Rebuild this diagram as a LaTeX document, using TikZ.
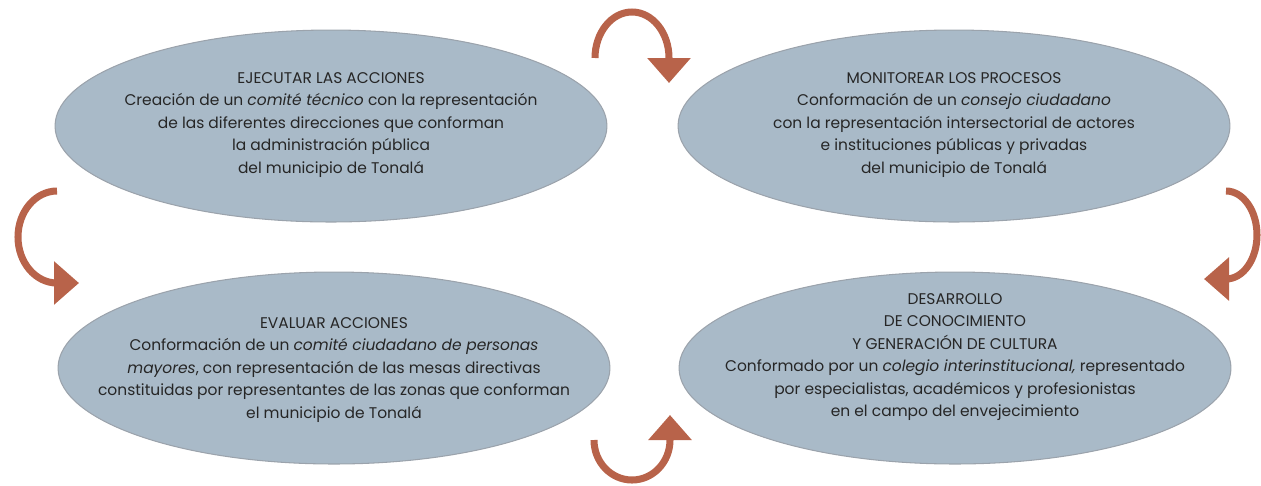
\documentclass[tikz,border=0pt]{standalone}
\usepackage{fontspec}
\setmainfont{Poppins}
\usetikzlibrary{shapes.geometric}
\usetikzlibrary{arrows.meta}
\definecolor{ovalfill}{RGB}{169,186,200}
\definecolor{ovalline}{RGB}{155,163,172}
\definecolor{cyclearrow}{RGB}{184,99,74}
\tikzset{
  oval/.style={ellipse,fill=ovalfill,draw=ovalline,line width=0.6pt,
    minimum width=11.04cm,minimum height=3.84cm,inner sep=0pt},
  ovaltext/.style={align=center,font=\fontsize{8.8}{12.8}\selectfont,text=black!85},
  turn/.style={draw=cyclearrow,line width=4pt,
    -{Triangle[width=0.84cm,length=0.5cm]},fill=none}
}
\begin{document}
\begin{tikzpicture}[x=0.02cm,y=-0.02cm]
\useasboundingbox (0,0) rectangle (1261,485);
\node[oval] (ejecutar) at (331,126) {};
\node[oval] (monitorear) at (954,126) {};
\node[oval] (evaluar) at (334,368) {};
\node[oval] (desarrollo) at (955,368) {};
\node[ovaltext] (t1) at (331,125) {EJECUTAR LAS ACCIONES\\Creación de un \textit{comité técnico} con la representación\\de las diferentes direcciones que conforman\\la administración pública\\del municipio de Tonalá};
\node[ovaltext] (t2) at (954,125) {MONITOREAR LOS PROCESOS\\Conformación de un \textit{consejo ciudadano}\\con la representación intersectorial de actores\\e instituciones públicas y privadas\\del municipio de Tonalá};
\node[ovaltext] (t3) at (334,370) {EVALUAR ACCIONES\\Conformación de un \textit{comité ciudadano de personas}\\\textit{mayores}, con representación de las mesas directivas\\constituidas por representantes de las zonas que conforman\\el municipio de Tonalá};
\node[ovaltext] (t4) at (955,357) {DESARROLLO\\DE CONOCIMIENTO\\Y GENERACIÓN DE CULTURA\\Conformado por un \textit{colegio interinstitucional,} representado\\por especialistas, académicos y profesionistas\\en el campo del envejecimiento};
% flechas del ciclo
\coordinate (a1) at (595,58);
\coordinate (a2) at (57,191);
\coordinate (a3) at (1226,191);
\coordinate (a4) at (594,440);
\draw[turn] (a1) arc[start angle=180,end angle=360,x radius=37,y radius=46] -- ++(0,25);
\draw[turn] (a2) arc[start angle=270,end angle=90,x radius=39,y radius=46] -- ++(22,0);
\draw[turn] (a3) arc[start angle=-90,end angle=90,x radius=31,y radius=44] -- ++(-22,0);
\draw[turn] (a4) arc[start angle=180,end angle=0,x radius=38,y radius=40] -- ++(0,-25);
\end{tikzpicture}
\end{document}
